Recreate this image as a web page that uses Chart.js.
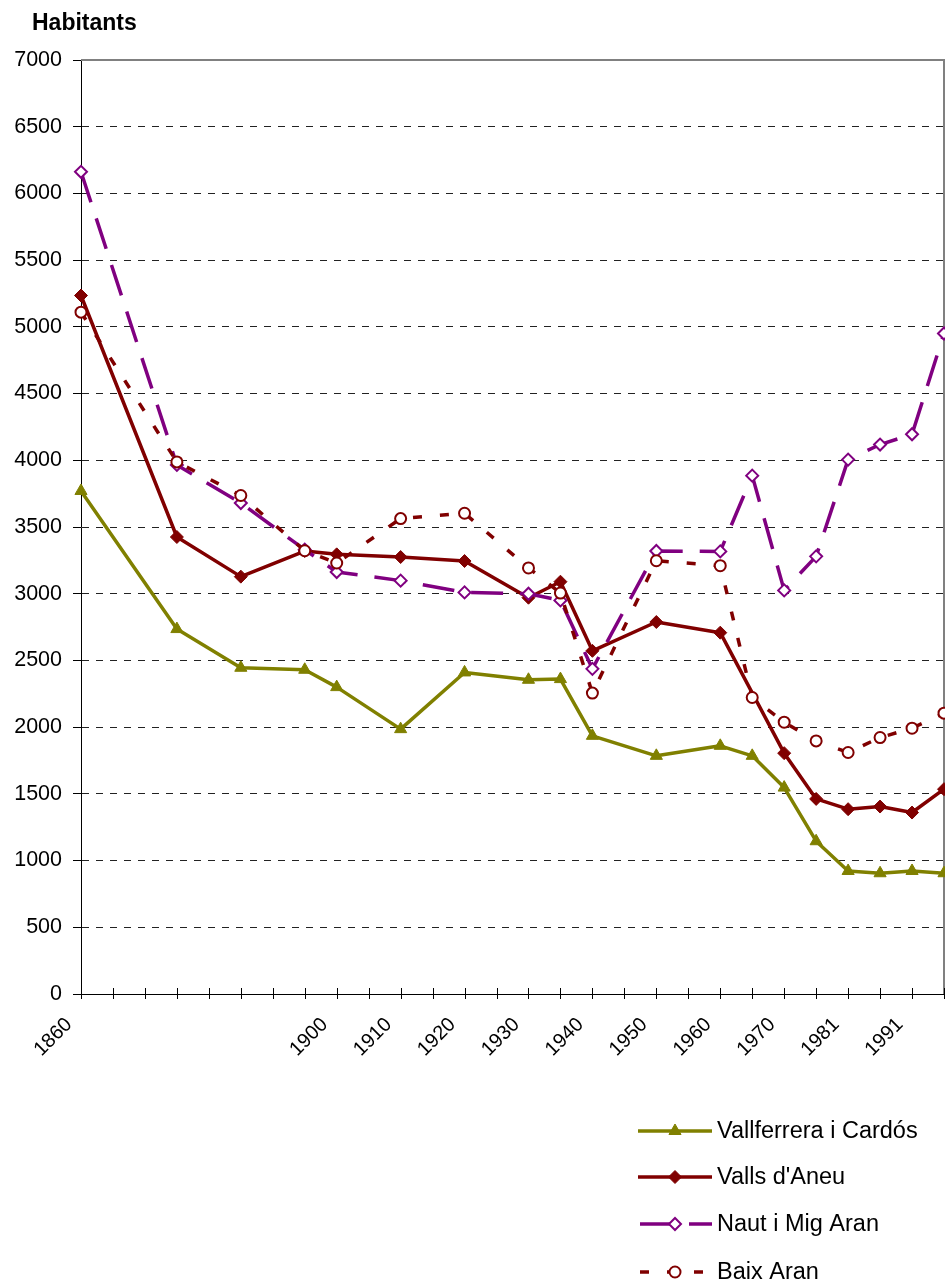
<!DOCTYPE html>
<html>
<head>
<meta charset="utf-8">
<title>Habitants</title>
<script src="https://cdn.jsdelivr.net/npm/chart.js@4.4.1/dist/chart.umd.min.js"></script>
<style>
  html, body { margin: 0; padding: 0; background: #fff; }
  canvas { display: block; }
</style>
</head>
<body>
<canvas id="popChart" width="945" height="1285"></canvas>
<script>
// Census years on a category axis; blank entries are spacer categories
const categories = ['1860', '', '', '1877', '', '1887', '', '1897', '1900', '', '1910', '', '1920', '', '1930', '1936',
    '1940', '', '1950', '', '1960', '1965', '1970', '1975', '1981', '1986', '1991', '1996'];

const seriesNames = ['Vallferrera i Cardós', "Valls d'Aneu", 'Naut i Mig Aran', 'Baix Aran'];

const vallferrera = [3770, null, null, 2735, null, 2445, null, 2430, 2300, null, 1985, null, 2410, null, 2355, 2360,
    1935, null, 1785, null, 1860, 1785, 1547, 1145, 922, 905, 922, 905];
const vallsAneu = [5235, null, null, 3425, null, 3128, null, 3320, 3295, null, 3275, null, 3245, null, 2970, 3090,
    2572, null, 2788, null, 2708, null, 1805, 1462, 1385, 1405, 1360, 1535];
const nautMigAran = [6162, null, null, 3965, null, 3680, null, 3330, 3163, null, 3098, null, 3010, null, 3000, 2950,
    2437, null, 3320, null, 3317, 3885, 3025, 3280, 4005, 4118, 4195, 4950];
const baixAran = [5110, null, null, 3988, null, 3736, null, 3322, 3230, null, 3563, null, 3603, null, 3193, 3005,
    2255, null, 3247, null, 3210, 2222, 2037, 1897, 1810, 1922, 1992, 2105];

const yTicks = { min: 0, max: 7000, step: 500 };

const colors = {
    olive: '#808000',
    darkRed: '#800000',
    purple: '#800080',
    grid: '#222222',
    frame: '#808080'
};

const FONT = '"Liberation Sans", Arial, sans-serif';
Chart.defaults.font.family = FONT;
Chart.defaults.color = '#000';

// Title in the top-left corner, plot frame and crossing tick marks on the x axis
const decorPlugin = {
    id: 'decor',
    beforeDatasetsDraw(chart) {
        const { ctx, chartArea } = chart;
        ctx.save();
        ctx.strokeStyle = colors.frame;
        ctx.lineWidth = 2;
        ctx.beginPath();
        ctx.moveTo(chartArea.left, chartArea.top);
        ctx.lineTo(chartArea.right, chartArea.top);
        ctx.lineTo(chartArea.right, chartArea.bottom);
        ctx.stroke();

        const xScale = chart.scales.x;
        ctx.strokeStyle = '#000';
        ctx.lineWidth = 1;
        ctx.beginPath();
        for (let i = 0; i < categories.length; i++) {
            const px = Math.round(xScale.getPixelForTick(i)) + 0.5;
            ctx.moveTo(px, chartArea.bottom - 6);
            ctx.lineTo(px, chartArea.bottom + 5);
        }
        ctx.stroke();
        ctx.restore();
    },
    afterDraw(chart) {
        const ctx = chart.ctx;
        ctx.save();
        ctx.fillStyle = '#000';
        ctx.font = 'bold 23px ' + FONT;
        ctx.textBaseline = 'alphabetic';
        ctx.fillText('Habitants', 32, 30);
        ctx.restore();
    }
};

// Vertical legend in the bottom-right corner
const legendPlugin = {
    id: 'sideLegend',
    afterDraw(chart) {
        const ctx = chart.ctx;
        const rows = [1131, 1177, 1224, 1272];
        chart.data.datasets.forEach((ds, i) => {
            const y = rows[i];
            ctx.save();
            ctx.strokeStyle = ds.borderColor;
            ctx.lineWidth = ds.borderWidth;
            ctx.lineCap = 'butt';
            ctx.setLineDash(ds.borderDash || []);
            ctx.lineDashOffset = ds.borderDash ? -2 : 0;
            ctx.beginPath();
            ctx.moveTo(638, y);
            ctx.lineTo(712, y);
            ctx.stroke();

            ctx.setLineDash([]);
            ctx.fillStyle = ds.pointBackgroundColor;
            ctx.strokeStyle = ds.pointBorderColor;
            ctx.lineWidth = ds.pointBorderWidth;
            Chart.helpers.drawPoint(ctx, {
                pointStyle: ds.pointStyle,
                radius: ds.pointRadius,
                rotation: 0,
                borderWidth: ds.pointBorderWidth
            }, 675, y);

            ctx.fillStyle = '#000';
            ctx.font = '23.5px ' + FONT;
            ctx.textBaseline = 'middle';
            ctx.fillText(ds.label, 717, y + 1);
            ctx.restore();
        });
    }
};

function lineSeries(label, data, color, extra) {
    return Object.assign({
        label: label,
        data: data,
        borderColor: color,
        borderWidth: 3.5,
        tension: 0,
        spanGaps: true,
        fill: false,
        borderJoinStyle: 'round',
        borderCapStyle: 'butt',
        pointBorderColor: color,
        pointHoverRadius: 6
    }, extra);
}

const ctx = document.getElementById('popChart').getContext('2d');

new Chart(ctx, {
    type: 'line',
    data: {
        labels: categories,
        datasets: [
            lineSeries(seriesNames[0], vallferrera, colors.olive, {
                pointStyle: 'triangle', pointRadius: 7, pointBackgroundColor: colors.olive, pointBorderWidth: 1, order: 4
            }),
            lineSeries(seriesNames[1], vallsAneu, colors.darkRed, {
                pointStyle: 'rectRot', pointRadius: 6.5, pointBackgroundColor: colors.darkRed, pointBorderWidth: 1, order: 3
            }),
            lineSeries(seriesNames[2], nautMigAran, colors.purple, {
                pointStyle: 'rectRot', pointRadius: 6, pointBackgroundColor: '#ffffff', pointBorderWidth: 2,
                borderDash: [32, 17], order: 2
            }),
            lineSeries(seriesNames[3], baixAran, colors.darkRed, {
                pointStyle: 'circle', pointRadius: 5.5, pointBackgroundColor: '#ffffff', pointBorderWidth: 2,
                borderDash: [9, 18], order: 1
            })
        ]
    },
    options: {
        responsive: false,
        animation: false,
        layout: { autoPadding: false, padding: { left: 0, right: 1, top: 60, bottom: 0 } },
        plugins: {
            legend: { display: false },
            title: { display: false },
            tooltip: { enabled: false }
        },
        scales: {
            x: {
                type: 'category',
                offset: false,
                grid: { display: false, drawTicks: false },
                border: { display: true, color: '#000', width: 1 },
                ticks: {
                    autoSkip: false,
                    minRotation: 45,
                    maxRotation: 45,
                    padding: 19,
                    labelOffset: -12,
                    color: '#000',
                    font: { size: 20 },
                    callback: (value, index) => (index % 2 === 0 ? categories[index] : '')
                },
                afterFit: (scale) => {
                    scale.height = 291;
                    scale.paddingLeft = 0;
                    scale.paddingRight = 0;
                }
            },
            y: {
                min: yTicks.min,
                max: yTicks.max,
                ticks: {
                    stepSize: yTicks.step,
                    padding: 11,
                    color: '#000',
                    font: { size: 21.5 },
                    callback: (value) => String(value)
                },
                grid: {
                    color: (c) => (c.tick && c.tick.value === yTicks.max ? 'rgba(0,0,0,0)' : colors.grid),
                    lineWidth: 1,
                    tickLength: 8,
                    tickColor: '#000',
                    tickBorderDash: []
                },
                border: { display: true, color: '#000', width: 1, dash: [7, 7] },
                afterFit: (scale) => { scale.width = 81; }
            }
        }
    },
    plugins: [decorPlugin, legendPlugin]
});
</script>
</body>
</html>
